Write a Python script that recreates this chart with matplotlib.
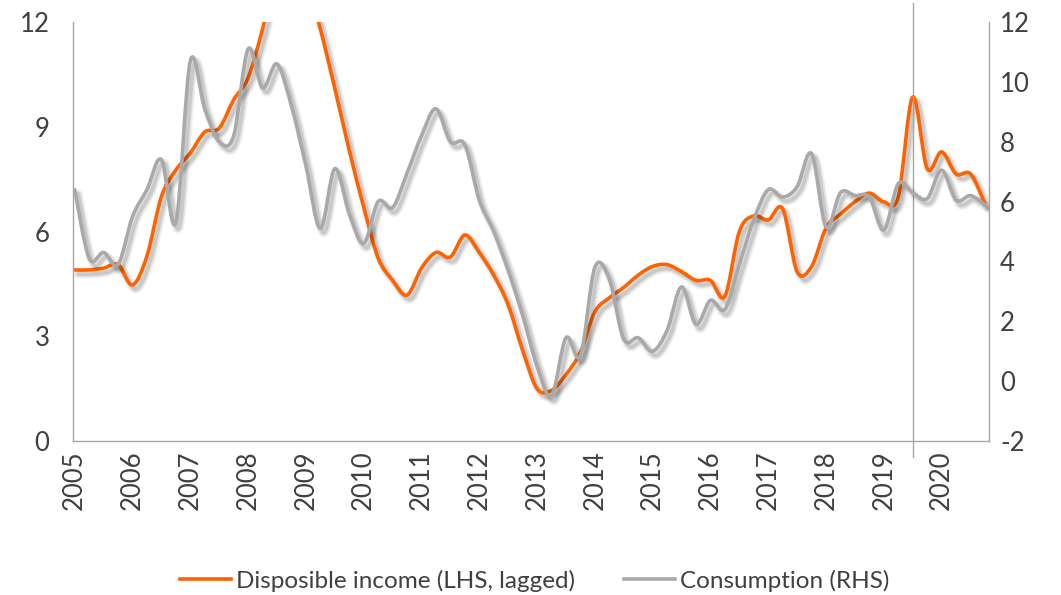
import matplotlib
matplotlib.use('Agg')
import numpy as np
import matplotlib.pyplot as plt
from matplotlib.path import Path
from matplotlib.patches import PathPatch
import matplotlib.patheffects as pe

plt.rcParams['font.family'] = ['Lato', 'DejaVu Sans']
plt.rcParams['axes.unicode_minus'] = False

# Quarterly observations 2005Q1 .. 2020Q4
start_year = 2005
n_quarters = 64
year_labels = [str(y) for y in range(2005, 2021)]

income = [4.9, 4.9, 4.95, 5.05, 4.47, 5.3, 7.0, 7.76,
          8.25, 8.85, 8.96, 9.77, 10.4, 11.8, 13.5, 14.0,
          13.2, 11.8, 10.1, 8.33, 6.7, 5.24, 4.6, 4.18,
          4.95, 5.4, 5.27, 5.9, 5.4, 4.75, 3.9, 2.6,
          1.5, 1.45, 1.9, 2.55, 3.7, 4.1, 4.4, 4.75,
          5.0, 5.05, 4.85, 4.6, 4.6, 4.15, 6.0, 6.45,
          6.33, 6.65, 4.85, 5.0, 6.1, 6.5, 6.85, 7.1,
          6.85, 7.0, 9.85, 7.8, 8.28, 7.65, 7.65, 6.8]

consumption = [6.4, 4.1, 4.3, 3.9, 5.5, 6.4, 7.4, 5.3,
               10.7, 9.1, 8.0, 8.2, 11.1, 9.8, 10.6, 9.2,
               7.2, 5.1, 7.1, 5.6, 4.6, 6.0, 5.8, 6.95,
               8.2, 9.1, 8.0, 7.9, 6.05, 5.0, 3.7, 2.2,
               0.5, -0.5, 1.45, 0.85, 3.8, 3.4, 1.4, 1.45,
               1.0, 1.7, 3.15, 1.9, 2.7, 2.4, 3.9, 5.4,
               6.4, 6.15, 6.5, 7.6, 5.15, 6.3, 6.2, 6.15,
               5.05, 6.6, 6.3, 6.1, 7.05, 6.05, 6.2, 5.9]

marker_year = 2019.5

ORANGE = '#FF6200'
GREY = '#A9A9A9'
TEXT = '#404040'
SPINE = '#A6A6A6'

x = start_year + np.arange(n_quarters) / 4.0


def smooth_path(xs, ys):
    verts = [(xs[0], ys[0])]
    codes = [Path.MOVETO]
    n = len(xs)
    for i in range(n - 1):
        xp, yp = (xs[i - 1], ys[i - 1]) if i > 0 else (xs[i], ys[i])
        xn, yn = (xs[i + 2], ys[i + 2]) if i + 2 < n else (xs[i + 1], ys[i + 1])
        c1 = (xs[i] + (xs[i + 1] - xp) / 6.0, ys[i] + (ys[i + 1] - yp) / 6.0)
        c2 = (xs[i + 1] - (xn - xs[i]) / 6.0, ys[i + 1] - (yn - ys[i]) / 6.0)
        verts += [c1, c2, (xs[i + 1], ys[i + 1])]
        codes += [Path.CURVE4] * 3
    return Path(verts, codes)


def shadow_effects(lw):
    return [pe.SimpleLineShadow(offset=(2.5, -3), shadow_color='black', alpha=0.05, linewidth=lw + 4),
            pe.SimpleLineShadow(offset=(2.5, -3), shadow_color='black', alpha=0.07, linewidth=lw + 2),
            pe.SimpleLineShadow(offset=(2.5, -3), shadow_color='black', alpha=0.10, linewidth=lw),
            pe.Normal()]


fig = plt.figure(figsize=(10.61, 5.95), dpi=100)
ax = fig.add_axes([73 / 1061, 1 - 441 / 595, (989 - 73) / 1061, (441 - 22) / 595])
ax2 = ax.twinx()

lw = 2.6
p1 = PathPatch(smooth_path(x, income), fill=False, edgecolor=ORANGE, linewidth=lw,
               capstyle='round', joinstyle='round')
p1.set_path_effects(shadow_effects(lw))
ax.add_patch(p1)

p2 = PathPatch(smooth_path(x, consumption), fill=False, edgecolor=GREY, linewidth=lw,
               capstyle='round', joinstyle='round')
p2.set_path_effects(shadow_effects(lw))
ax2.add_patch(p2)

ax.set_xlim(2004.97, 2020.82)
ax.set_ylim(0, 12)
ax2.set_ylim(-2, 12)
ax.set_yticks([0, 3, 6, 9, 12])
ax2.set_yticks(list(range(-2, 13, 2)))
ax.set_xticks(list(range(2005, 2021)))
ax.set_xticklabels(year_labels, rotation=90)

for a in (ax, ax2):
    for s in a.spines.values():
        s.set_color(SPINE)
        s.set_linewidth(1.0)
    a.spines['top'].set_visible(False)
ax.spines['right'].set_visible(False)
ax2.spines['left'].set_visible(False)
ax2.spines['bottom'].set_visible(False)

ax.tick_params(axis='y', length=0, pad=17, labelsize=18.5, labelcolor=TEXT)
ax.tick_params(axis='x', length=0, pad=7, labelsize=18.5, labelcolor=TEXT)
ax2.tick_params(axis='y', length=0, pad=8, labelsize=18.5, labelcolor=TEXT)

# vertical marker line
ax.plot([marker_year, marker_year], [-0.038, 1.045], color=SPINE, linewidth=1.0,
        transform=ax.get_xaxis_transform(), clip_on=False, zorder=1)

h1 = plt.Line2D([], [], color=ORANGE, linewidth=lw)
h2 = plt.Line2D([], [], color=GREY, linewidth=lw)
fig.legend([h1, h2], ['Disposible income (LHS, lagged)', 'Consumption (RHS)'],
           loc='center', bbox_to_anchor=(0.504, 0.024), ncol=2, frameon=False,
           fontsize=17.5, labelcolor=TEXT, handlelength=2.1, handletextpad=0.2,
           columnspacing=2.0)

fig.savefig('out.png', dpi=100)
